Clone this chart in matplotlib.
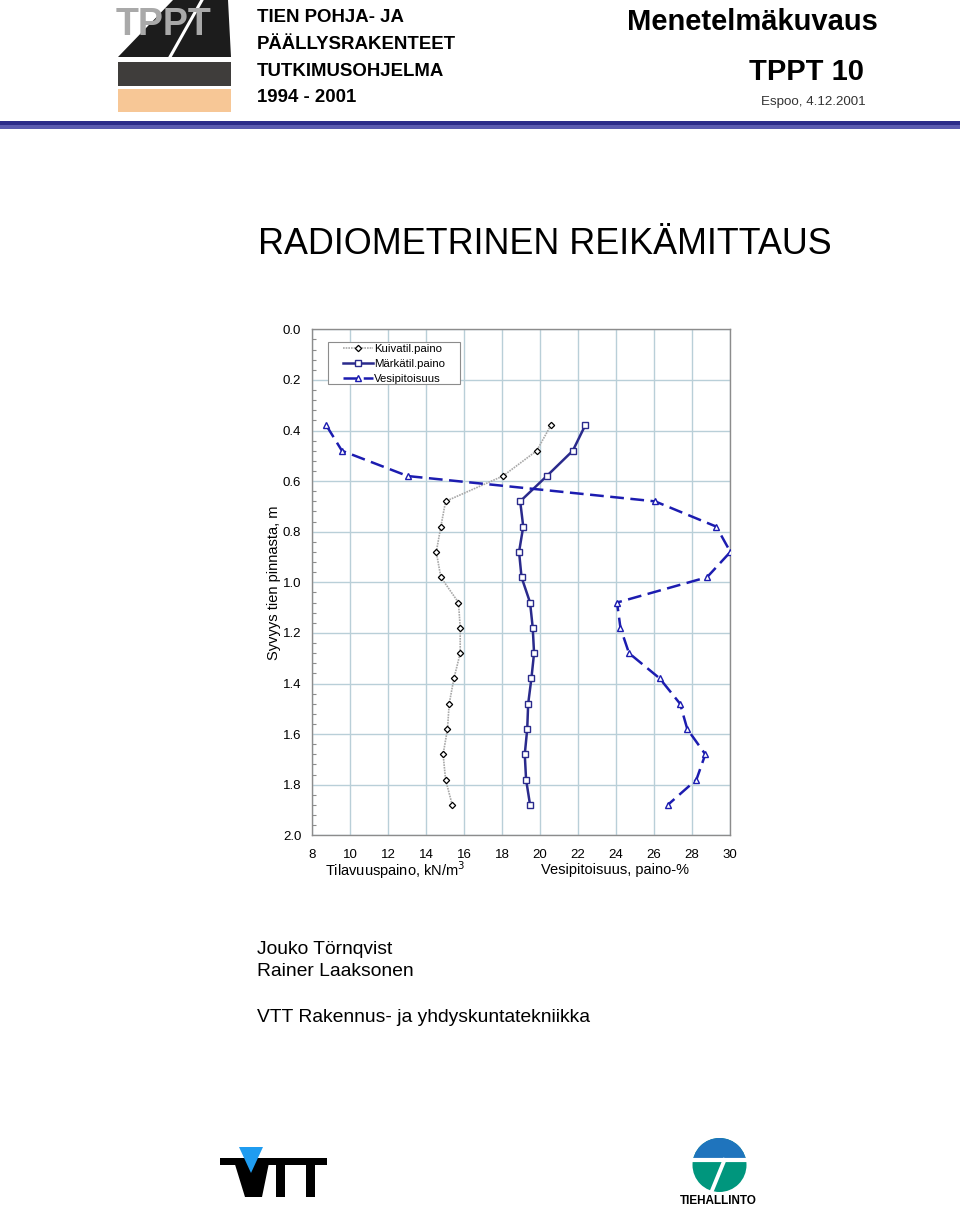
import matplotlib
matplotlib.use("Agg")
import matplotlib.pyplot as plt
from matplotlib.patches import Polygon, Rectangle, Circle
from matplotlib.ticker import MultipleLocator, FormatStrFormatter

# ---------------- data ----------------
depth = [0.38, 0.48, 0.58, 0.68, 0.78, 0.88, 0.98, 1.08,
         1.18, 1.28, 1.38, 1.48, 1.58, 1.68, 1.78, 1.88]
kuivatil = [20.56, 19.82, 18.04, 15.02, 14.77, 14.53, 14.77, 15.70,
            15.79, 15.79, 15.46, 15.21, 15.12, 14.89, 15.02, 15.37]
markatil = [22.37, 21.72, 20.35, 18.95, 19.11, 18.89, 19.02, 19.47,
            19.61, 19.68, 19.54, 19.37, 19.32, 19.19, 19.26, 19.47]
vesipitoisuus = [8.74, 9.56, 13.02, 26.05, 29.28, 30.02, 28.79, 24.05,
                 24.23, 24.68, 26.30, 27.37, 27.75, 28.70, 28.23, 26.72]
series_names = ["Kuivatil.paino", "Märkätil.paino", "Vesipitoisuus"]
x_ticks = [8, 10, 12, 14, 16, 18, 20, 22, 24, 26, 28, 30]
y_ticks = [0.0, 0.2, 0.4, 0.6, 0.8, 1.0, 1.2, 1.4, 1.6, 1.8, 2.0]

FONT = ["Liberation Sans", "DejaVu Sans"]
plt.rcParams["font.family"] = FONT

W, H = 960, 1209
fig = plt.figure(figsize=(W / 100, H / 100), dpi=100)

# full-page overlay in pixel coordinates
bg = fig.add_axes([0, 0, 1, 1])
bg.set_xlim(0, W)
bg.set_ylim(H, 0)
bg.axis("off")

# ---- TPPT logo ----
bg.add_patch(Polygon([(118, 57), (173, 0), (228, 0), (231, 57)], closed=True,
                     facecolor="#1c1c1c", edgecolor="none"))
bg.plot([202, 170], [0, 57], color="white", lw=2.2)
bg.add_patch(Rectangle((118, 62), 113, 24, facecolor="#3f3d3b", edgecolor="none"))
bg.add_patch(Rectangle((118, 89), 113, 23, facecolor="#f7c796", edgecolor="none"))
bg.text(116, 25, "TPPT", fontsize=27, fontweight="bold", color="#a9a9a9",
        va="center", ha="left")

# header texts
for i, line in enumerate(["TIEN POHJA- JA", "PÄÄLLYSRAKENTEET",
                          "TUTKIMUSOHJELMA", "1994 - 2001"]):
    bg.text(257, 18 + i * 26.5, line, fontsize=13.4, fontweight="bold",
            va="center", ha="left", color="black")
bg.text(752, 22, "Menetelmäkuvaus", fontsize=21, fontweight="bold",
        va="center", ha="center")
bg.text(864, 72, "TPPT 10", fontsize=21, fontweight="bold",
        va="center", ha="right")
bg.text(866, 102, "Espoo, 4.12.2001", fontsize=9.6,
        va="center", ha="right", color="#333333")

# blue rule
bg.add_patch(Rectangle((0, 121), W, 4, facecolor="#2b2b8a", edgecolor="none"))
bg.add_patch(Rectangle((0, 125), W, 4, facecolor="#5a5ab0", edgecolor="none"))

# title
bg.text(258, 245, "RADIOMETRINEN REIKÄMITTAUS", fontsize=25.8,
        va="center", ha="left")

# authors
bg.text(257, 950, "Jouko Törnqvist", fontsize=13.9, va="center", ha="left")
bg.text(257, 972, "Rainer Laaksonen", fontsize=13.9, va="center", ha="left")
bg.text(257, 1017, "VTT Rakennus- ja yhdyskuntatekniikka", fontsize=13.9,
        va="center", ha="left")

# ---- VTT logo ----
bg.add_patch(Rectangle((220, 1158), 107, 7, facecolor="black", edgecolor="none"))
bg.add_patch(Polygon([(233, 1158), (270, 1158), (262, 1197), (245, 1197)],
                     closed=True, facecolor="black", edgecolor="none"))
bg.add_patch(Polygon([(239, 1147), (263, 1147), (251, 1173)], closed=True,
                     facecolor="#1f9cf0", edgecolor="none"))
bg.add_patch(Rectangle((276, 1158), 9, 39, facecolor="black", edgecolor="none"))
bg.add_patch(Rectangle((306, 1158), 9, 39, facecolor="black", edgecolor="none"))

# ---- Tiehallinto logo ----
cx, cy, r = 719.5, 1165, 27
bg.add_patch(Circle((cx, cy), r, facecolor="#00967d", edgecolor="none"))
blue = Circle((cx, cy), r, facecolor="#1f74bd", edgecolor="none")
bg.add_patch(blue)
clip = Rectangle((cx - r - 2, cy - r - 2), 2 * r + 4, (1158 - (cy - r - 2)),
                 transform=bg.transData, facecolor="none", edgecolor="none")
blue.set_clip_path(clip)
bg.plot([cx - r - 1, cx + r + 1], [1160, 1160], color="white", lw=3)
bg.plot([724.5, 711], [1160, 1193], color="white", lw=2.8)
bg.text(718.5, 1201, "TIEHALLINTO", fontsize=8.5, fontweight="bold",
        va="center", ha="center")

# ---------------- chart ----------------
left, right = 312.3 / W, 730 / W
top, bottom = 1 - 329.3 / H, 1 - 835.3 / H
ax = fig.add_axes([left, bottom, right - left, top - bottom])

grid_c = "#b9cfd8"
l1, = ax.plot(kuivatil, depth, color="#a8a8a8", lw=1.2, ls=(0, (1, 0.6)),
              marker="D", ms=3.2, mfc="white", mec="black", mew=0.9,
              label=series_names[0], zorder=3)
l2, = ax.plot(markatil, depth, color="#2a2a8c", lw=1.8, ls="-",
              marker="s", ms=4.5, mfc="white", mec="#2a2a8c", mew=1.0,
              label=series_names[1], zorder=3)
l3, = ax.plot(vesipitoisuus, depth, color="#1c1cb0", lw=1.8, ls=(0, (5.5, 2.6)),
              marker="^", ms=4.2, mfc="white", mec="#1c1cb0", mew=1.0,
              label=series_names[2], zorder=3)

ax.set_xlim(8, 30)
ax.set_ylim(2.0, 0.0)
ax.set_xticks(x_ticks)
ax.set_yticks(y_ticks)
ax.yaxis.set_major_formatter(FormatStrFormatter("%.1f"))
ax.yaxis.set_minor_locator(MultipleLocator(0.04))
ax.grid(True, which="major", color=grid_c, lw=1.0, zorder=0)
ax.set_axisbelow(True)
for s in ax.spines.values():
    s.set_color("#8c8c8c")
    s.set_linewidth(1.0)
ax.tick_params(axis="both", which="major", length=0, labelsize=9.5, pad=8)
ax.tick_params(axis="y", which="minor", direction="in", length=3,
               color="#8c8c8c", width=0.8)
ax.tick_params(axis="x", which="major", pad=10)
ax.set_ylabel("Syvyys tien pinnasta, m", fontsize=10.5, labelpad=1)

fig.text(395 / W, 1 - 870 / H, "Tilavuuspaino, kN/m$^3$", fontsize=10.5,
         ha="center", va="center")
fig.text(615 / W, 1 - 870 / H, "Vesipitoisuus, paino-%", fontsize=10.5,
         ha="center", va="center")

# legend: frame drawn as box in axes-fraction coordinates
bx0, bx1 = (328 - 312.3) / 418, (460 - 312.3) / 418
by0, by1 = 1 - (384 - 329.3) / 506, 1 - (341.7 - 329.3) / 506
ax.add_patch(Rectangle((bx0, by0), bx1 - bx0, by1 - by0, transform=ax.transAxes,
                       facecolor="white", edgecolor="#8c8c8c", lw=0.8, zorder=4))
leg = ax.legend(handles=[l1, l2, l3], loc="upper left",
                bbox_to_anchor=((343 - 312.3) / 418, 1 - (344 - 329.3) / 506),
                fontsize=8.2, frameon=False, borderpad=0,
                handlelength=2.6, handletextpad=0.15, labelspacing=0.42,
                borderaxespad=0)
leg.set_zorder(5)

fig.savefig("out.png", dpi=100)
